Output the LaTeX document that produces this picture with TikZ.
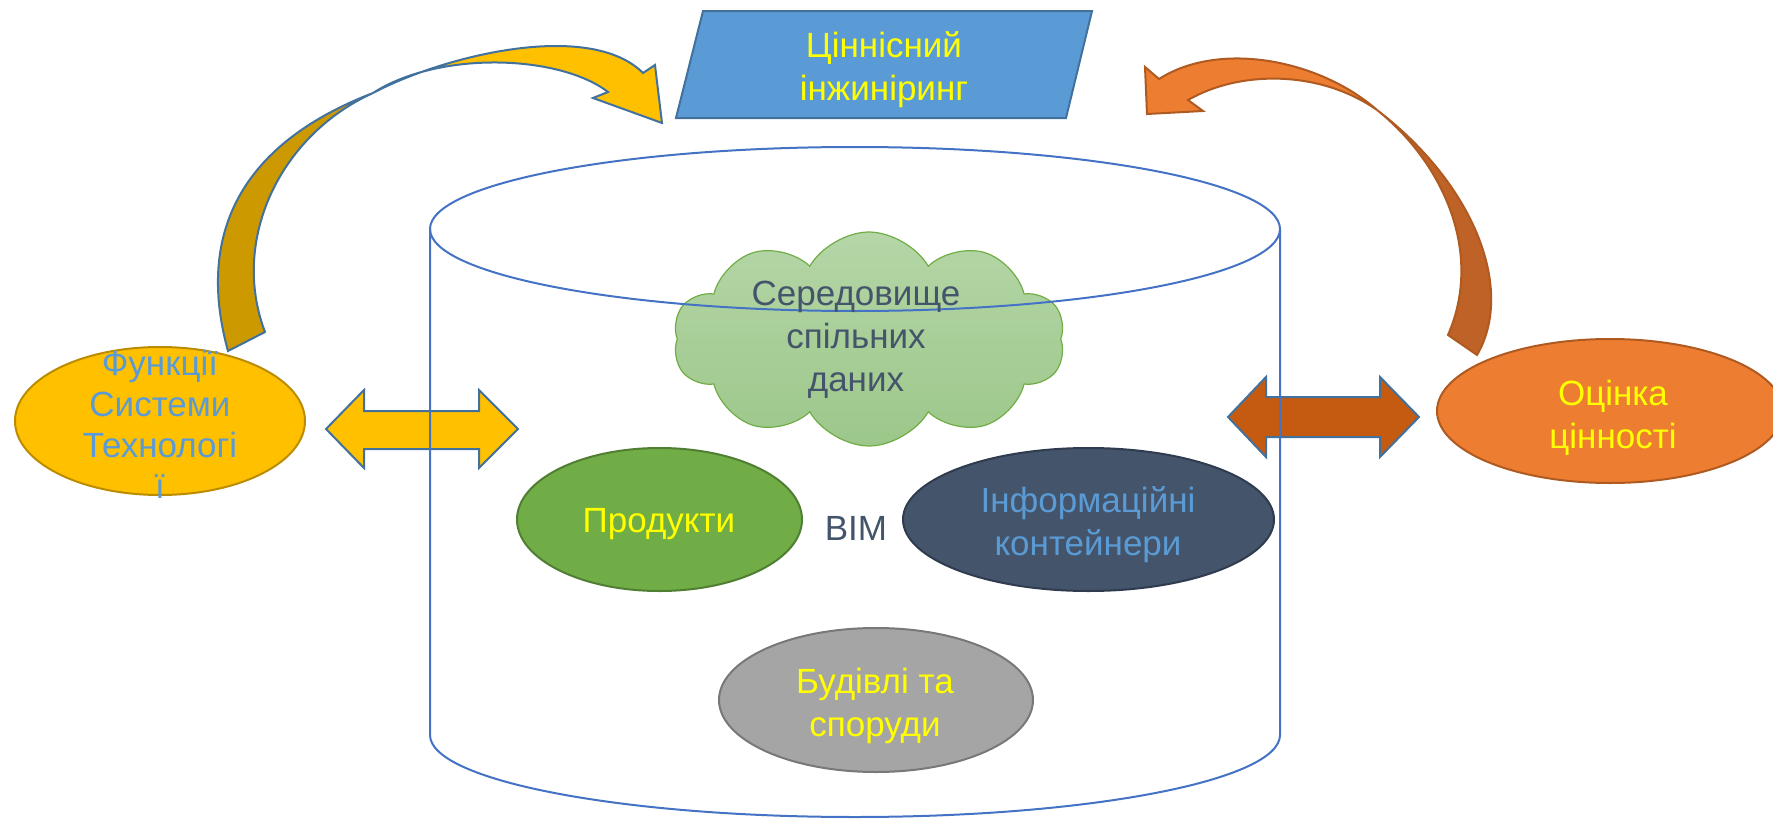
\documentclass[tikz,border=0pt]{standalone}
\usepackage{fontspec}
\setmainfont{Liberation Sans}
\usetikzlibrary{shapes.geometric,shapes.symbols}
\definecolor{paraFill}{HTML}{5B9BD5}
\definecolor{paraDraw}{HTML}{41719C}
\definecolor{cylBlue}{HTML}{4472C4}
\definecolor{gold}{HTML}{FFC000}
\definecolor{goldDark}{HTML}{CC9A00}
\definecolor{goldBorder}{HTML}{BC8C00}
\definecolor{orng}{HTML}{ED7D31}
\definecolor{orngDark}{HTML}{BF6228}
\definecolor{orngBorder}{HTML}{AE5A21}
\definecolor{rust}{HTML}{C55A11}
\definecolor{grn}{HTML}{70AD47}
\definecolor{grnBorder}{HTML}{507E32}
\definecolor{slate}{HTML}{44546A}
\definecolor{slateBorder}{HTML}{2F3B4E}
\definecolor{gry}{HTML}{A5A5A5}
\definecolor{gryBorder}{HTML}{787878}
\definecolor{cloudTop}{HTML}{B5D6A7}
\definecolor{cloudBot}{HTML}{9CC78A}
\definecolor{yel}{HTML}{FFFF00}
\definecolor{txtBlue}{HTML}{5B9BD5}
\tikzset{
  lbl/.style={font=\fontsize{17.5pt}{21.5pt}\selectfont, align=center, inner sep=0pt},
  oval/.style={ellipse, line width=1pt, inner sep=0pt},
  blockarrow/.style={line width=1pt, line join=miter},
}
\begin{document}
\begin{tikzpicture}[x=0.5pt,y=-0.5pt]
\useasboundingbox (0,0) rectangle (1773,819);

% parallelogram
\filldraw[fill=paraFill, draw=paraDraw, line width=1pt]
  (703,11) -- (1092,11) -- (1066,118) -- (676,118) -- cycle;
\node[lbl, text=yel] (vi) at (884,70) {Ціннісний\\інжиніринг};

% left curved arrow (gold)
\filldraw[blockarrow, fill=goldDark, draw=paraDraw]
  (228,351) .. controls (200,250) and (225,150) .. (373,93)
  .. controls (280,135) and (230,240) .. (265,332) -- cycle;
\filldraw[blockarrow, fill=gold, draw=paraDraw]
  (373,93) .. controls (445,55) and (590,20) .. (643,73)
  -- (655,65) -- (662,123) -- (593,98) -- (608,92)
  .. controls (560,55) and (440,50) .. (373,93) -- cycle;

% right curved arrow (orange)
\filldraw[blockarrow, fill=orngDark, draw=orngBorder]
  (1477,355) .. controls (1515,290) and (1475,185) .. (1377,110)
  .. controls (1440,160) and (1485,250) .. (1448,335) -- cycle;
\filldraw[blockarrow, fill=orng, draw=orngBorder]
  (1377,110) .. controls (1320,60) and (1220,40) .. (1159,79)
  -- (1145,67) -- (1147,114) -- (1203,111) -- (1188,100)
  .. controls (1240,70) and (1320,70) .. (1377,110) -- cycle;

% left double arrow
\filldraw[blockarrow, fill=gold, draw=paraDraw]
  (326,429) -- (364,390) -- (364,411) -- (479,411) -- (479,390) -- (518,429)
  -- (479,468) -- (479,449) -- (364,449) -- (364,468) -- cycle;
% right double arrow
\filldraw[blockarrow, fill=rust, draw=paraDraw]
  (1228,417) -- (1266,377) -- (1266,397) -- (1380,397) -- (1380,377) -- (1419,417)
  -- (1380,457) -- (1380,437) -- (1266,437) -- (1266,457) -- cycle;

% cloud
\node[cloud, cloud puffs=10, cloud puff arc=120, aspect=1.8,
      minimum width=196pt, minimum height=107pt, inner sep=0pt,
      top color=cloudTop, bottom color=cloudBot, draw=grn, line width=0.6pt]
      (cld) at (869,339) {};

% ellipses
\node[oval, fill=gold, draw=goldBorder, minimum width=145pt, minimum height=74pt] (fst) at (160,421) {};
\node[oval, fill=orng, draw=orngBorder, minimum width=173pt, minimum height=72pt] (oc) at (1610,411) {};
\node[oval, fill=grn, draw=grnBorder, minimum width=142.5pt, minimum height=71.5pt] (pr) at (659.5,519.5) {};
\node[oval, fill=slate, draw=slateBorder, minimum width=185.5pt, minimum height=71.5pt] (ic) at (1088.5,519.5) {};
\node[oval, fill=gry, draw=gryBorder, minimum width=157pt, minimum height=72pt] (bs) at (876,700) {};

% cylinder
\draw[cylBlue, line width=1pt] (855,229) ellipse [x radius=425, y radius=82];
\draw[cylBlue, line width=1pt] (430,229) -- (430,735) arc[start angle=180, end angle=0, x radius=425, y radius=82] -- (1280,229);

% texts
\node[lbl, text=slate] (cldt) at (856,340) {Середовище\\спільних\\даних};
\node[lbl, text=txtBlue, font=\fontsize{17.5pt}{20.5pt}\selectfont] (fstt) at (160,424) {Функції\\Системи\\Технологі\\ї};
\node[lbl, text=yel] (oct) at (1613,418) {Оцінка\\цінності};
\node[lbl, text=yel] (prt) at (659,524) {Продукти};
\node[lbl, text=slate] (bim) at (856,528) {BIM};
\node[lbl, text=txtBlue] (ict) at (1088,525) {Інформаційні\\контейнери};
\node[lbl, text=yel] (bst) at (875,706) {Будівлі та\\споруди};
\end{tikzpicture}
\end{document}
